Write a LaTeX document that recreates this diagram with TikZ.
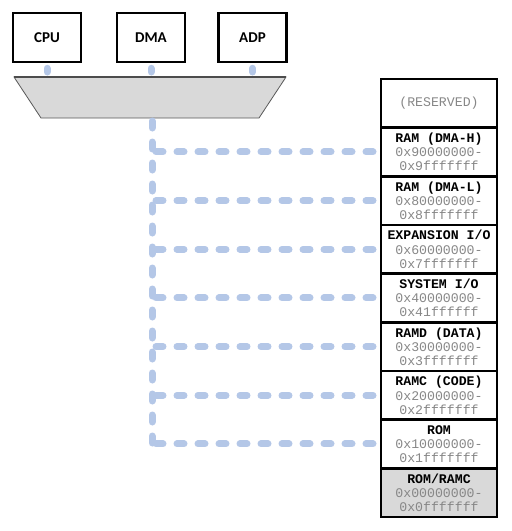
\documentclass[tikz,border=0pt]{standalone}
\usepackage{fontspec}
\setmainfont{Carlito}
\setmonofont{Liberation Mono}
\usetikzlibrary{positioning}
\definecolor{busblue}{RGB}{180,199,231}
\definecolor{addrgray}{RGB}{135,135,135}
\definecolor{bridgegray}{RGB}{217,217,217}
\newcommand{\addr}[3]{\textbf{#1}\\\textcolor{addrgray}{#2}\\\textcolor{addrgray}{#3}}

\tikzset{
  unit/.style={draw,line width=2.6pt,minimum width=68pt,minimum height=49pt,font=\bfseries\fontsize{15}{17}\selectfont},
  region/.style={draw,line width=2.5pt,outer sep=0pt,inner sep=0pt,minimum width=116pt,minimum height=48.67pt,align=center,font=\ttfamily\fontsize{13.2}{14.2}\selectfont},
  bus/.style={busblue,line width=7pt,line cap=round,dash pattern=on 7pt off 14pt}
}

\begin{document}
\begin{tikzpicture}[x=1pt,y=-1pt]
\useasboundingbox (0,0) rectangle (512,531);
% masters
\node[unit] (cpu) at (47,37.5) {CPU};
\node[unit] (dma) at (151,37.5) {DMA};
\node[unit] (adp) at (252.5,37.5) {ADP};
% bridge
\coordinate (tl) at (14,77);
\coordinate (tr) at (286,77);
\coordinate (busout) at (152,118);
\filldraw[fill=bridgegray,draw=gray!70!black,line width=0.8pt]
(tl) -- (tr) -- (259,118) -- (41,118) -- cycle;
\draw[gray!60!black,line width=1.6pt] (tl) -- (tr);
\foreach \m in {cpu,dma,adp}
  \draw[bus,solid,shorten <=5pt,shorten >=5pt] (\m.south) -- (\m.south |- tl);
% memory map
\node[region,text=addrgray] (res) at (439,103.3) {(RESERVED)};
\node[region,below=0pt of res] (dmah) {\addr{RAM (DMA-H)}{0x90000000-}{0x9fffffff}};
\node[region,below=0pt of dmah] (dmal) {\addr{RAM (DMA-L)}{0x80000000-}{0x8fffffff}};
\node[region,below=0pt of dmal] (expio) {\addr{EXPANSION I/O}{0x60000000-}{0x7fffffff}};
\node[region,below=0pt of expio] (sysio) {\addr{SYSTEM I/O}{0x40000000-}{0x41ffffff}};
\node[region,below=0pt of sysio] (ramd) {\addr{RAMD (DATA)}{0x30000000-}{0x3fffffff}};
\node[region,below=0pt of ramd] (ramc) {\addr{RAMC (CODE)}{0x20000000-}{0x2fffffff}};
\node[region,below=0pt of ramc] (rom) {\addr{ROM}{0x10000000-}{0x1fffffff}};
\node[region,below=0pt of rom,fill=bridgegray] (boot) {\addr{ROM/RAMC}{0x00000000-}{0x0fffffff}};
% bus
\draw[bus] ([yshift=-3pt]busout) -- (busout |- rom.west);
\foreach \r in {dmah,dmal,expio,sysio,ramd,ramc,rom}
  \draw[bus,shorten >=4pt] ([xshift=4pt]busout |- \r.west) -- (\r.west);
\end{tikzpicture}
\end{document}
